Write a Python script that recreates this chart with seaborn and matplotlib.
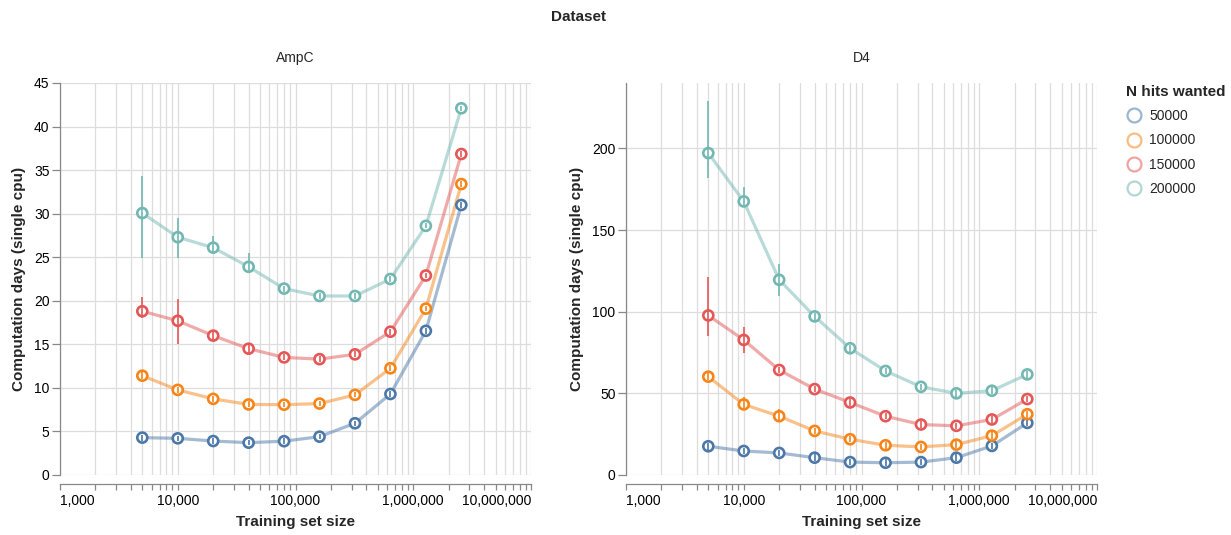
import pandas as pd
import matplotlib.pyplot as plt
import numpy as np
import seaborn as sns
from matplotlib.ticker import FixedLocator, LogLocator, NullFormatter
from matplotlib.lines import Line2D

# training set sizes (same for both datasets)
sizes = [5000, 10000, 20000, 40000, 80000, 160000, 320000, 640000, 1280000, 2560000]
hits = [50000, 100000, 150000, 200000]
colors = ['#4c78a8', '#f58518', '#e45756', '#72b7b2']

# AmpC - computation days
ampc_50k = [4.29, 4.21, 3.9, 3.71, 3.88, 4.4, 5.94, 9.3, 16.55, 31.0]
ampc_100k = [11.4, 9.77, 8.74, 8.1, 8.07, 8.2, 9.2, 12.25, 19.1, 33.4]
ampc_150k = [18.8, 17.7, 16.0, 14.5, 13.5, 13.3, 13.85, 16.45, 22.9, 36.85]
ampc_200k = [30.07, 27.3, 26.1, 23.9, 21.4, 20.55, 20.55, 22.5, 28.6, 42.1]
# error bars (low, high)
ampc_50k_lo = [3.95, 3.9, 3.6, 3.4, 3.55, 4.1, 5.6, 9.0, 16.2, 30.7]
ampc_50k_hi = [4.6, 4.5, 4.2, 4.0, 4.2, 4.7, 6.25, 9.6, 16.9, 31.3]
ampc_100k_lo = [11.0, 9.4, 8.4, 7.75, 7.75, 7.9, 8.9, 11.9, 18.8, 33.1]
ampc_100k_hi = [11.8, 10.1, 9.1, 8.45, 8.4, 8.5, 9.5, 12.6, 19.4, 33.7]
ampc_150k_lo = [18.0, 15.0, 15.5, 13.9, 13.15, 12.95, 13.5, 16.1, 22.6, 36.5]
ampc_150k_hi = [20.4, 20.2, 16.4, 14.9, 13.85, 13.65, 14.2, 16.8, 23.2, 37.2]
ampc_200k_lo = [24.9, 24.9, 25.5, 23.2, 21.05, 20.2, 20.2, 22.15, 28.3, 41.8]
ampc_200k_hi = [34.3, 29.5, 27.4, 25.5, 21.75, 20.9, 20.9, 22.85, 28.9, 42.4]

# D4 - computation days
d4_50k = [17.6, 14.7, 13.5, 10.6, 7.9, 7.5, 7.9, 10.6, 17.8, 31.9]
d4_100k = [60.2, 43.2, 36.0, 27.0, 21.9, 18.2, 17.2, 18.6, 24.1, 37.2]
d4_150k = [97.7, 82.7, 64.3, 52.6, 44.4, 36.0, 30.9, 30.1, 34.0, 46.5]
d4_200k = [197.1, 167.5, 119.5, 97.1, 77.6, 63.7, 54.0, 50.0, 51.6, 61.6]
d4_50k_lo = [15.6, 12.7, 11.5, 8.6, 5.9, 5.5, 5.9, 8.6, 15.8, 29.9]
d4_50k_hi = [19.6, 16.7, 15.5, 12.6, 9.9, 9.5, 9.9, 12.6, 19.8, 33.9]
d4_100k_lo = [58.2, 40.0, 33.0, 25.0, 19.9, 16.2, 15.2, 16.6, 22.1, 35.2]
d4_100k_hi = [62.2, 47.9, 40.7, 29.0, 23.9, 20.2, 19.2, 20.6, 26.1, 39.2]
d4_150k_lo = [84.8, 74.9, 62.3, 50.6, 42.4, 34.0, 28.9, 28.1, 32.0, 44.5]
d4_150k_hi = [121.4, 90.9, 66.3, 54.6, 46.4, 38.0, 32.9, 32.1, 36.0, 48.5]
d4_200k_lo = [181.6, 164.0, 109.3, 95.1, 75.6, 61.7, 52.0, 48.0, 49.6, 59.6]
d4_200k_hi = [229.2, 176.1, 129.4, 99.1, 79.6, 65.7, 56.0, 52.0, 53.6, 63.6]

series = {
    'AmpC': [(ampc_50k, ampc_50k_lo, ampc_50k_hi), (ampc_100k, ampc_100k_lo, ampc_100k_hi),
             (ampc_150k, ampc_150k_lo, ampc_150k_hi), (ampc_200k, ampc_200k_lo, ampc_200k_hi)],
    'D4': [(d4_50k, d4_50k_lo, d4_50k_hi), (d4_100k, d4_100k_lo, d4_100k_hi),
           (d4_150k, d4_150k_lo, d4_150k_hi), (d4_200k, d4_200k_lo, d4_200k_hi)],
}

rows = []
for ds, lst in series.items():
    for h, (v, lo, hi) in zip(hits, lst):
        for s, a, b, c in zip(sizes, v, lo, hi):
            rows.append([ds, h, s, a, b, c])
df = pd.DataFrame(rows, columns=['Dataset', 'N hits wanted', 'Training set size', 'days', 'lo', 'hi'])

sns.set_theme(style='white')
plt.rcParams['font.family'] = ['Liberation Sans', 'DejaVu Sans']

pal = dict(zip(hits, colors))
fig = plt.figure(figsize=(12.31, 5.35), dpi=100)
W, H = 1231, 535
ax1 = fig.add_axes([60 / W, 60 / H, 471 / W, 392 / H])
ax2 = fig.add_axes([626 / W, 60 / H, 471 / W, 392 / H])

limits = {'AmpC': (45, np.arange(0, 46, 5)), 'D4': (240, np.arange(0, 201, 50))}

for ax, ds in [(ax1, 'AmpC'), (ax2, 'D4')]:
    sub = df[df['Dataset'] == ds]
    sns.lineplot(data=sub, x='Training set size', y='days', hue='N hits wanted', palette=pal,
                 hue_order=hits, linewidth=2.3, alpha=0.5, legend=False, errorbar=None,
                 ax=ax, zorder=2)
    sns.scatterplot(data=sub, x='Training set size', y='days', hue='N hits wanted', palette=pal,
                    hue_order=hits, s=52, linewidth=1.9, legend=False, ax=ax, zorder=3)
    coll = ax.collections[-1]
    coll.set_edgecolors(coll.get_facecolors())
    coll.set_facecolors('white')
    for h in hits:
        g = sub[sub['N hits wanted'] == h]
        ax.vlines(g['Training set size'], g['lo'], g['hi'], colors=pal[h], lw=1.2, zorder=4)

    for sp in ['top', 'right']:
        ax.spines[sp].set_visible(False)
    for sp in ['left', 'bottom']:
        ax.spines[sp].set_color('#888888')
        ax.spines[sp].set_linewidth(0.9)
    ax.spines['bottom'].set_position(('outward', 6.5))

    ax.set_xscale('log')
    ax.set_xlim(1e3, 1e7)
    top, yt = limits[ds]
    ax.set_ylim(0, top)
    ax.set_yticks(yt)
    ax.set_yticklabels([str(t) for t in yt])
    ax.xaxis.set_major_locator(FixedLocator([1e3, 1e4, 1e5, 1e6, 1e7]))
    ax.xaxis.set_minor_locator(LogLocator(base=10, subs=np.arange(2, 10)))
    ax.xaxis.set_minor_formatter(NullFormatter())
    ax.set_xticklabels(['1,000', '10,000', '100,000', '1,000,000', '10,000,000'])

    ax.grid(True, which='both', axis='x', color='#dddddd', lw=0.9)
    ax.grid(True, which='major', axis='y', color='#dddddd', lw=0.9)
    ax.set_axisbelow(True)
    ax.tick_params(axis='x', which='both', direction='out', length=4.5, width=0.9,
                   color='#888888', labelsize=10, pad=3, labelcolor='black', bottom=True)
    ax.tick_params(axis='y', direction='out', length=5.5, width=0.9, color='#888888',
                   labelsize=10, pad=2, labelcolor='black', left=True)
    labs = ax.get_xticklabels()
    labs[0].set_horizontalalignment('left')
    labs[-1].set_horizontalalignment('right')

    ax.set_xlabel('Training set size', fontsize=11, fontweight='bold', labelpad=5)
    ax.set_ylabel('Computation days (single cpu)', fontsize=11, fontweight='bold', labelpad=6)
    ax.set_title(ds, fontsize=10, pad=15)

fig.text(578.5 / W, 1 - 17 / H, 'Dataset', fontsize=11, fontweight='bold', ha='center', va='center')

handles = [Line2D([], [], marker='o', linestyle='none', markersize=10, markerfacecolor='none',
                  markeredgecolor=c, markeredgewidth=1.6, alpha=0.55) for c in colors]
leg = fig.legend(handles, [str(h) for h in hits], title='N hits wanted', loc='upper left',
                 bbox_to_anchor=(1120 / W, 1 - 79 / H), frameon=False, fontsize=10,
                 title_fontproperties={'weight': 'bold', 'size': 11}, handletextpad=0.5,
                 labelspacing=0.75, borderaxespad=0, handlelength=1.2)
leg._legend_box.align = 'left'

fig.savefig('out.png', dpi=100)
